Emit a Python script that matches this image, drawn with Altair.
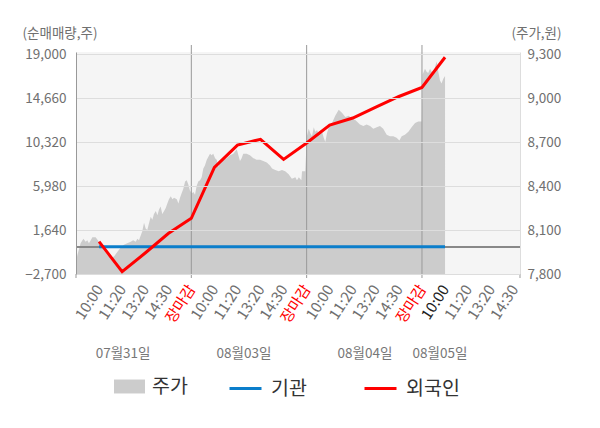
import json
import altair as alt
import pandas as pd

FONT = "Noto Sans CJK KR"

# ---- x slots: labelled points, 5 per trading day ----
x_tick_labels = ["10:00", "11:20", "13:20", "14:30", "장마감",
                 "10:00", "11:20", "13:20", "14:30", "장마감",
                 "10:00", "11:20", "13:20", "14:30", "장마감",
                 "10:00", "11:20", "13:20", "14:30"]
x_tick_values = list(range(1, 20))
x_domain = [0, 19.25]
day_bounds = [5, 10, 15]
axis_ends = [0, 19.25]

date_labels = ["07월31일", "08월03일", "08월04일", "08월05일"]
date_pos = [2.04, 7.28, 12.53, 15.78]

# ---- net buying (shares), one point per slot ----
flow_slots = [1, 2, 3, 4, 5, 6, 7, 8, 9, 10, 11, 12, 13, 14, 15, 16]
foreign = [490, -2470, -630, 1290, 2790, 7820, 10020, 10590, 8610, 10220,
           12000, 12690, 13770, 14810, 15700, 18680]
institution = [0, 0, 0, 0, 0, 0, 0, 0, 0, 0, 0, 0, 0, 0, 0, 0]

# ---- stock price (won) ----
price_s = [0.00, 0.06, 0.20, 0.32, 0.42, 0.49, 0.56, 0.64, 0.71, 0.85, 0.95, 1.07,
           1.21, 1.36, 1.50, 1.65, 1.79, 1.94, 2.08, 2.22, 2.37, 2.48, 2.59, 2.66,
           2.73, 2.87, 2.95, 3.02, 3.09, 3.17, 3.24, 3.31, 3.38, 3.46, 3.53, 3.60,
           3.67, 3.74, 3.82, 3.89, 3.96, 4.03, 4.11, 4.18, 4.25, 4.37, 4.44, 4.51,
           4.58, 4.65, 4.73, 4.80, 4.87, 4.94,
           5.02, 5.09, 5.16, 5.23, 5.30, 5.38, 5.45, 5.52, 5.59, 5.67, 5.74, 5.81,
           5.88, 5.95, 6.03, 6.10, 6.17, 6.24, 6.39, 6.53, 6.68, 6.82, 6.97, 7.04,
           7.11, 7.18, 7.25, 7.40, 7.54, 7.69, 7.83, 7.98, 8.12, 8.27, 8.41, 8.50,
           8.64, 8.79, 8.93, 9.07, 9.22, 9.36, 9.51, 9.58, 9.66, 9.77, 9.80, 9.94,
           10.01, 10.09, 10.16, 10.23, 10.31, 10.37, 10.45, 10.52, 10.59, 10.67,
           10.74, 10.81, 10.88, 10.96, 11.10, 11.24, 11.39, 11.46, 11.53, 11.68,
           11.82, 11.97, 12.11, 12.31, 12.46, 12.60, 12.75, 12.89, 13.04, 13.18,
           13.32, 13.47, 13.61, 13.76, 13.90, 14.02, 14.12, 14.26, 14.41, 14.55,
           14.70, 14.84, 14.99,
           15.03, 15.13, 15.20, 15.27, 15.35, 15.42, 15.49, 15.56, 15.64, 15.71,
           15.78, 15.85, 15.92, 16.00]
price_v = [7880, 7930, 8010, 8040, 8020, 8030, 8010, 8030, 8050, 8050, 8030, 8000,
           7960, 7930, 7910, 7920, 7950, 7980, 8000, 8010, 8020, 8030, 8020, 8040,
           8030, 8090, 8150, 8110, 8100, 8150, 8190, 8170, 8210, 8230, 8200, 8240,
           8260, 8210, 8230, 8250, 8280, 8310, 8330, 8310, 8320, 8310, 8280, 8320,
           8350, 8380, 8430, 8440, 8410, 8370,
           8350, 8360, 8340, 8400, 8430, 8440, 8460, 8520, 8540, 8580, 8600, 8620,
           8610, 8620, 8590, 8580, 8530, 8560, 8580, 8590, 8610, 8620, 8650, 8610,
           8570, 8590, 8620, 8620, 8610, 8590, 8580, 8580, 8570, 8560, 8540, 8520,
           8510, 8500, 8510, 8500, 8480, 8450, 8460, 8440, 8460, 8440, 8500, 8500,
           8740, 8790, 8760, 8740, 8800, 8770, 8780, 8760, 8780, 8770,
           8730, 8700, 8760, 8800, 8830, 8880, 8920, 8910, 8900, 8870,
           8880, 8860, 8850, 8820, 8810, 8820, 8810, 8790, 8800, 8810,
           8790, 8750, 8740, 8740, 8730, 8710, 8740, 8750, 8770, 8800,
           8830, 8840, 8840,
           9160, 9200, 9180, 9170, 9200, 9180, 9160, 9210, 9250, 9180,
           9120, 9100, 9130, 9150]

left_ticks = [-2700, 1640, 5980, 10320, 14660, 19000]
right_ticks = [7800, 8100, 8400, 8700, 9000, 9300]
price_floor = 7800

# ---- tables ----
price_df = pd.DataFrame({"s": price_s, "price": price_v, "series": "주가"})
flows_df = pd.concat([
    pd.DataFrame({"s": flow_slots, "value": institution, "series": "기관"}),
    pd.DataFrame({"s": flow_slots, "value": foreign, "series": "외국인"}),
])
bounds_df = pd.DataFrame({"s": day_bounds})
ends_df = pd.DataFrame({"s": axis_ends})
dates_df = pd.DataFrame({"s": date_pos, "label": date_labels})

W, H = 444, 222
xscale = alt.Scale(domain=x_domain, nice=False, zero=False)
yl_scale = alt.Scale(domain=[-2700, 19200], nice=False, zero=False)
yr_scale = alt.Scale(domain=[7800, 9314], nice=False, zero=False)

label_expr = json.dumps(x_tick_labels, ensure_ascii=False) + "[datum.value - 1]"
x_axis = alt.Axis(
    values=x_tick_values, labelExpr=label_expr, title=None, ticks=False,
    grid=False, domainColor="#aaaaaa", labelAngle=-57, labelAlign="right",
    labelBaseline="middle", labelPadding=12, labelFontSize=15, labelFont=FONT,
    labelOverlap=False, labelFlush=False, labelBound=False,
    labelColor={"condition": [{"test": "datum.value % 5 === 0", "value": "#ff0000"},
                              {"test": "datum.value === 16", "value": "#222222"}],
                "value": "#707070"},
)
left_axis = alt.Axis(
    orient="left", values=left_ticks, format=",.0f", ticks=False, grid=True,
    gridColor="#dddddd", domainColor="#999999", labelPadding=10,
    labelFontSize=13.5, labelFont=FONT, labelColor="#707070",
    labelOverlap=False, labelFlush=False, zindex=1,
    title="(순매매량,주)", titleAngle=0, titleAlign="left", titleBaseline="middle",
    titleX=-54, titleY=-19, titleFont=FONT, titleFontSize=13.5,
    titleFontWeight="normal", titleColor="#707070",
)
right_axis = alt.Axis(
    orient="right", values=right_ticks, format=",.0f", ticks=False, grid=False,
    domainColor="#dddddd", labelPadding=7, labelFontSize=13.5, labelFont=FONT,
    labelColor="#707070", labelOverlap=False, labelFlush=False,
    title="(주가,원)", titleAngle=0, titleAlign="center", titleBaseline="middle",
    titleX=16, titleY=-19, titleFont=FONT, titleFontSize=13.5,
    titleFontWeight="normal", titleColor="#707070",
)

area = alt.Chart(price_df).mark_area(interpolate="linear").encode(
    x=alt.X("s:Q", scale=xscale, axis=x_axis),
    y=alt.Y("price:Q", scale=yr_scale, axis=right_axis),
    y2=alt.Y2Datum(price_floor),
    fill=alt.Fill("series:N", scale=alt.Scale(domain=["주가"], range=["#cccccc"]),
                  legend=alt.Legend(
                      title=None, orient="none", legendX=38, legendY=319,
                      direction="horizontal", padding=0,
                      symbolType="M-1,-0.45L1,-0.45L1,0.45L-1,0.45Z",
                      symbolSize=961, symbolStrokeWidth=0, labelOffset=7,
                      labelFont=FONT, labelFontSize=19.5, labelColor="#333333")),
)

zero_rule = alt.Chart(flows_df).mark_rule(color="#888888", strokeWidth=1).encode(
    y=alt.YDatum(0, scale=yl_scale, axis=left_axis),
)

bound_rules = alt.Chart(bounds_df).mark_rule(color="#999999", strokeWidth=1).encode(
    x=alt.X("s:Q", scale=xscale, axis=x_axis),
    y=alt.value(-7), y2=alt.value(H + 4),
)
end_ticks = alt.Chart(ends_df).mark_rule(color="#999999", strokeWidth=1).encode(
    x=alt.X("s:Q", scale=xscale, axis=x_axis),
    y=alt.value(H), y2=alt.value(H + 4),
)

lines = alt.Chart(flows_df).mark_line(strokeWidth=3).encode(
    x=alt.X("s:Q", scale=xscale, axis=x_axis),
    y=alt.Y("value:Q", scale=yl_scale, axis=left_axis),
    stroke=alt.Stroke("series:N",
                      scale=alt.Scale(domain=["기관", "외국인"], range=["#0b7ecb", "#ff0000"]),
                      legend=alt.Legend(
                          title=None, orient="none", legendX=152, legendY=319,
                          direction="horizontal", padding=0, symbolType="stroke",
                          symbolSize=1024, symbolStrokeWidth=3, labelOffset=8,
                          columnPadding=51, labelFont=FONT, labelFontSize=19.5,
                          labelColor="#333333")),
    detail="series:N",
)

dates = alt.Chart(dates_df).mark_text(font=FONT, fontSize=13.5, color="#777777").encode(
    x=alt.X("s:Q", scale=xscale, axis=x_axis),
    y=alt.value(302),
    text="label:N",
)

inner = alt.layer(zero_rule, bound_rules, end_ticks, lines, dates)

chart = alt.layer(area, inner).resolve_scale(y="independent").properties(
    width=W, height=H,
    padding={"left": 68, "top": 44, "right": 64, "bottom": 140},
    autosize=alt.AutoSizeParams(type="none"),
).configure_view(fill="#f5f5f5", strokeWidth=0)

chart.save("out.html", embed_options={"renderer": "svg", "actions": False})
